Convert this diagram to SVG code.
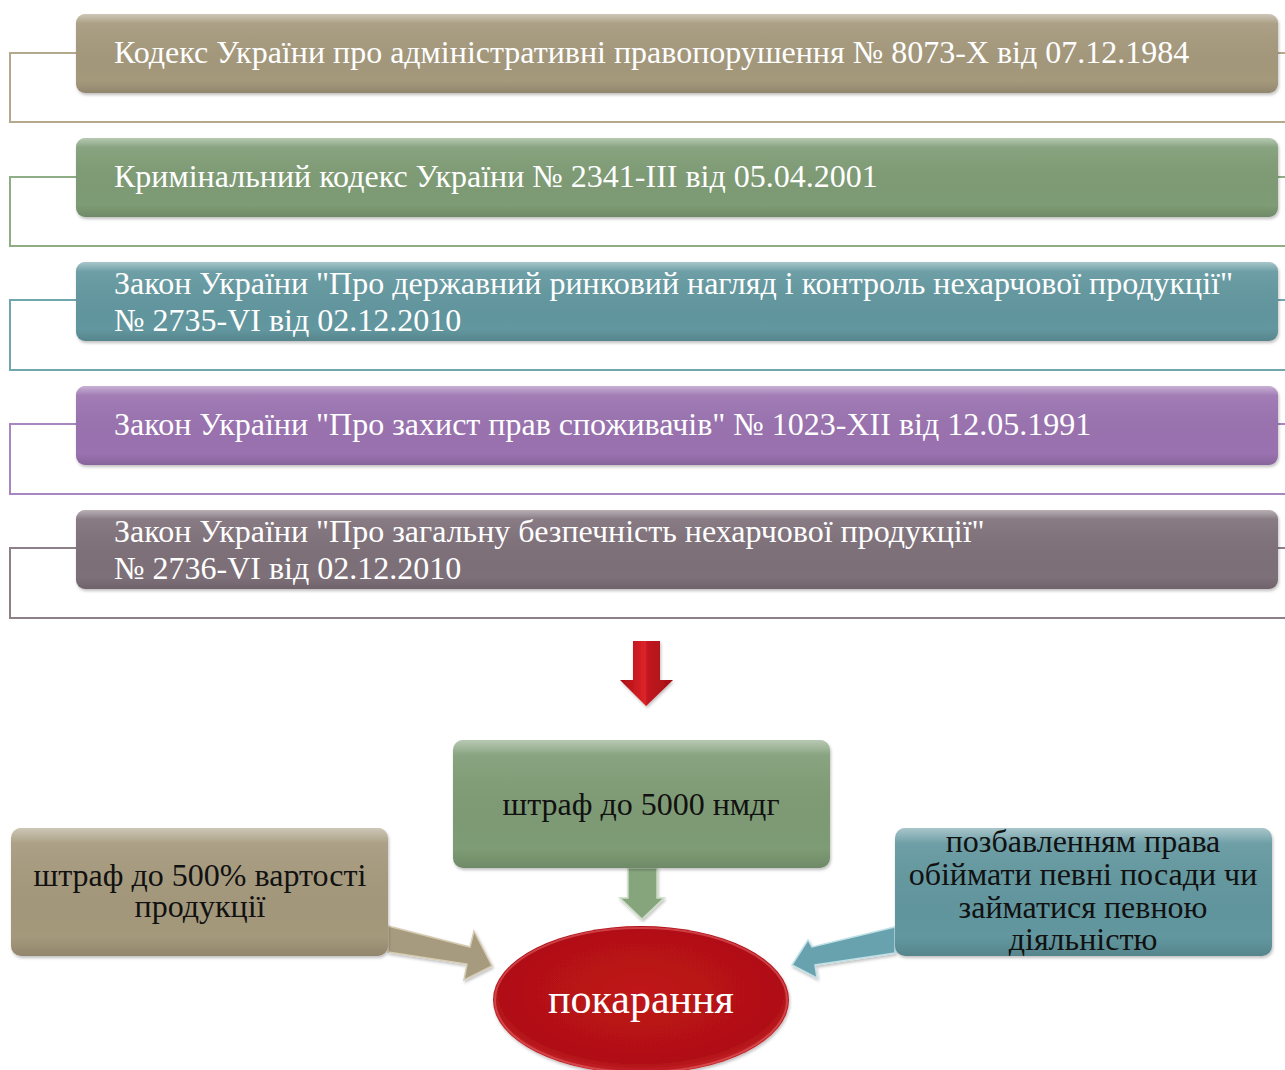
<svg xmlns="http://www.w3.org/2000/svg" width="1285" height="1070" viewBox="0 0 1285 1070">
<defs>
<style>
.bt{font-family:"Liberation Serif","Times New Roman",serif;font-size:32px;fill:#ffffff}
.dt{font-family:"Liberation Serif","Times New Roman",serif;font-size:32px;fill:#111111;text-anchor:middle}
.ol{fill:none;stroke-width:2}
</style>
<linearGradient id="sheen" x1="0" y1="0" x2="0" y2="1">
<stop offset="0" stop-color="#ffffff" stop-opacity="0.45"/>
<stop offset="0.12" stop-color="#ffffff" stop-opacity="0.08"/>
<stop offset="0.85" stop-color="#000000" stop-opacity="0"/>
<stop offset="1" stop-color="#000000" stop-opacity="0.12"/>
</linearGradient>
<radialGradient id="redg" cx="0.5" cy="0.45" r="0.6">
<stop offset="0" stop-color="#c0141a"/>
<stop offset="0.8" stop-color="#b01016"/>
<stop offset="1" stop-color="#d8383c"/>
</radialGradient>
<linearGradient id="arrowRed" x1="0" y1="0" x2="1" y2="0">
<stop offset="0" stop-color="#a80e14"/>
<stop offset="0.5" stop-color="#e0242a"/>
<stop offset="1" stop-color="#b01016"/>
</linearGradient>
<filter id="sh" x="-5%" y="-10%" width="110%" height="130%">
<feDropShadow dx="1" dy="2" stdDeviation="1.5" flood-color="#000" flood-opacity="0.25"/>
</filter>
</defs>
<rect width="1285" height="1070" fill="#ffffff"/>

<g id="connectors">
<path class="ol" stroke="#b5a98d" d="M1285 53 H1278 M76 53 H10 V122 H1285"/>
<path class="ol" stroke="#8fae85" d="M1285 177 H1278 M76 177 H10 V246 H1285"/>
<path class="ol" stroke="#72a6ae" d="M1285 300 H1278 M76 300 H10 V370 H1285"/>
<path class="ol" stroke="#a886bf" d="M1285 424 H1278 M76 424 H10 V494 H1285"/>
<path class="ol" stroke="#8d8088" d="M1285 548 H1278 M76 548 H10 V618 H1285"/>
<g id="arrow-main" filter="url(#sh)">
<polygon points="633,641 660,641 660,680 673,680 646,706 620,680 633,680" fill="url(#arrowRed)"/>
<polygon points="646,641 660,641 660,680 673,680 646,706" fill="#8f0a10" opacity="0.35"/>
</g>
<g id="arrow-green" filter="url(#sh)">
<polygon points="628,868 657,868 657,898 664,898 642,919 620,898 628,898" fill="#86a57d" stroke="#c9dcc2" stroke-width="1.5"/>
</g>
<g id="arrow-tan" filter="url(#sh)">
<polygon points="388,926 470,947 474,931 492,966 464,980 467,964 388,952" fill="#a79b7f" stroke="#d6ccb4" stroke-width="1.5"/>
</g>
<g id="arrow-teal" filter="url(#sh)">
<polygon points="895,927 812,947 808,940 792,965 817,978 815,965 895,953" fill="#68a2ae" stroke="#bfe0e6" stroke-width="1.5"/>
</g>
</g>

<g id="bar1">
<rect x="76" y="14" width="1202" height="79" rx="9" fill="#a5997b" filter="url(#sh)"/>
<rect x="76" y="14" width="1202" height="79" rx="9" fill="url(#sheen)"/>
<text class="bt" x="114" y="63">Кодекс України про адміністративні правопорушення № 8073-Х від 07.12.1984</text>
</g>
<g id="bar2">
<rect x="76" y="138" width="1202" height="79" rx="9" fill="#7e9c74" filter="url(#sh)"/>
<rect x="76" y="138" width="1202" height="79" rx="9" fill="url(#sheen)"/>
<text class="bt" x="114" y="187">Кримінальний кодекс України № 2341-ІІІ від 05.04.2001</text>
</g>
<g id="bar3">
<rect x="76" y="262" width="1202" height="79" rx="9" fill="#62979f" filter="url(#sh)"/>
<rect x="76" y="262" width="1202" height="79" rx="9" fill="url(#sheen)"/>
<text class="bt" x="114" y="294">Закон України "Про державний ринковий нагляд і контроль нехарчової продукції"</text>
<text class="bt" x="114" y="331">№ 2735-VI від 02.12.2010</text>
</g>
<g id="bar4">
<rect x="76" y="386" width="1202" height="79" rx="9" fill="#9a72b0" filter="url(#sh)"/>
<rect x="76" y="386" width="1202" height="79" rx="9" fill="url(#sheen)"/>
<text class="bt" x="114" y="435">Закон України "Про захист прав споживачів" № 1023-XII від 12.05.1991</text>
</g>
<g id="bar5">
<rect x="76" y="510" width="1202" height="79" rx="9" fill="#7e7079" filter="url(#sh)"/>
<rect x="76" y="510" width="1202" height="79" rx="9" fill="url(#sheen)"/>
<text class="bt" x="114" y="542">Закон України "Про загальну безпечність нехарчової продукції"</text>
<text class="bt" x="114" y="579">№ 2736-VI від 02.12.2010</text>
</g>

<g id="box-fine5000">
<rect x="453" y="740" width="377" height="128" rx="10" fill="#7e9c74" filter="url(#sh)"/>
<rect x="453" y="740" width="377" height="128" rx="10" fill="url(#sheen)"/>
<text class="dt" x="641" y="815">штраф до 5000 нмдг</text>
</g>
<g id="box-fine500">
<rect x="11" y="828" width="377" height="128" rx="10" fill="#a5997b" filter="url(#sh)"/>
<rect x="11" y="828" width="377" height="128" rx="10" fill="url(#sheen)"/>
<text class="dt" x="200" y="886">штраф до 500% вартості</text>
<text class="dt" x="200" y="917">продукції</text>
</g>
<g id="box-deprive">
<rect x="895" y="828" width="377" height="128" rx="10" fill="#62979f" filter="url(#sh)"/>
<rect x="895" y="828" width="377" height="128" rx="10" fill="url(#sheen)"/>
<text class="dt" x="1083" y="852">позбавленням права</text>
<text class="dt" x="1083" y="885">обіймати певні посади чи</text>
<text class="dt" x="1083" y="918">займатися певною</text>
<text class="dt" x="1083" y="950">діяльністю</text>
</g>
<g id="punishment">
<ellipse cx="641" cy="1000" rx="148" ry="74" fill="url(#redg)" filter="url(#sh)"/>
<ellipse cx="641" cy="1000" rx="146" ry="72" fill="none" stroke="#e06064" stroke-width="2" opacity="0.6"/>
<text x="641" y="1013" text-anchor="middle" style="font-family:'Liberation Serif','Times New Roman',serif;font-size:42px;fill:#ffffff">покарання</text>
</g>
</svg>
